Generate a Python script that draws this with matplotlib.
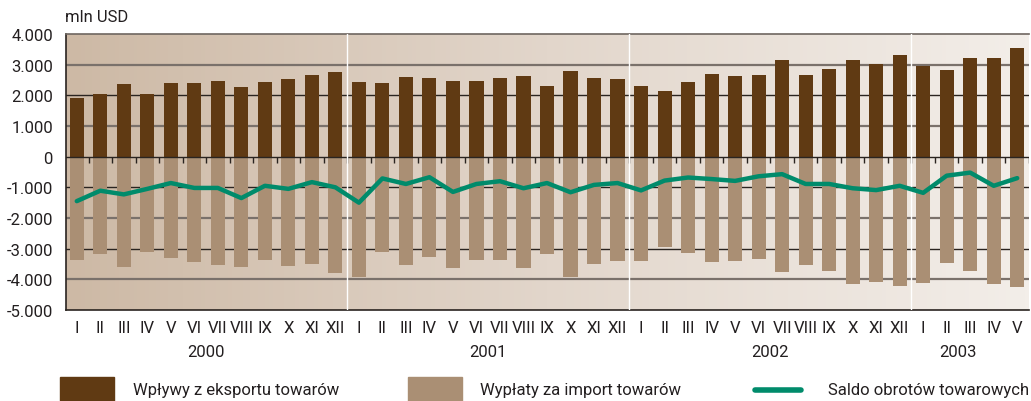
import numpy as np
import matplotlib
matplotlib.use("Agg")
import matplotlib.pyplot as plt
from matplotlib.colors import LinearSegmentedColormap
from matplotlib.patches import Rectangle
from matplotlib.lines import Line2D
import matplotlib.transforms as mtransforms

plt.rcParams['font.family'] = ['Roboto', 'DejaVu Sans']

# months of 2000-01 .. 2003-05
months = ['I', 'II', 'III', 'IV', 'V', 'VI', 'VII', 'VIII', 'IX', 'X', 'XI', 'XII'] * 3 + ['I', 'II', 'III', 'IV', 'V']
years = ['2000', '2001', '2002', '2003']
year_centers = [5.5, 17.5, 29.5, 37.5]
year_breaks = [11.5, 23.5, 35.5]

# mln USD
exports = [1910, 2040, 2370, 2040, 2400, 2400, 2470, 2270, 2430, 2530, 2660, 2760,
           2430, 2400, 2600, 2565, 2470, 2470, 2565, 2630, 2300, 2790, 2565, 2530,
           2300, 2140, 2430, 2700, 2630, 2660, 3150, 2660, 2860, 3150, 3020, 3315,
           2960, 2830, 3220, 3220, 3540]
imports = [-3360, -3160, -3590, -3100, -3290, -3420, -3520, -3590, -3360, -3550, -3490, -3780,
           -3910, -3100, -3520, -3260, -3620, -3360, -3360, -3620, -3160, -3910, -3490, -3390,
           -3390, -2930, -3130, -3420, -3390, -3330, -3750, -3520, -3720, -4140, -4080, -4210,
           -4110, -3460, -3720, -4140, -4240]
balance = [-1450, -1110, -1230, -1050, -860, -1020, -1020, -1350, -950, -1050, -830, -1000,
           -1500, -710, -890, -670, -1150, -890, -800, -1030, -860, -1160, -920, -860,
           -1100, -780, -680, -730, -790, -640, -570, -890, -890, -1030, -1090, -950,
           -1180, -620, -520, -950, -700]

c_exp = '#603a13'
c_imp = '#aa8f74'
c_bal = '#008b6b'

fig = plt.figure(figsize=(10.31, 4.02), dpi=100)
ax = fig.add_axes([65.5 / 1031, 91 / 402, 963 / 1031, 276 / 402])

x = np.arange(len(months))

# background gradient
bg = LinearSegmentedColormap.from_list('bg', ['#cdb9a5', '#e2d6cb', '#f3eee9'])
ax.imshow(np.linspace(0, 1, 256).reshape(1, -1), cmap=bg, aspect='auto',
          extent=(0, 1, 0, 1), transform=ax.transAxes, zorder=0)

# gridlines
for v in [3000, 1000, -2000, -4000]:
    ax.axhline(v, color='#7a716b', lw=1.6, zorder=1)
for v in [2000, -1000, -3000]:
    ax.axhline(v, color='#2a2420', lw=1.0, zorder=1)

ax.bar(x, exports, width=0.6, color=c_exp, zorder=2)
ax.bar(x, imports, width=0.6, color=c_imp, zorder=2)

ax.axhline(0, color='#2a2420', lw=1.0, zorder=3)
ax.vlines(x[1:] - 0.5, -200, 0, color='#2a2420', lw=1.0, zorder=3)
ax.vlines([x[-1] + 0.5], -200, 0, color='#2a2420', lw=1.0, zorder=3)

for b in year_breaks:
    ax.axvline(b, color='white', lw=1.0, zorder=3.5)

ax.plot(x, balance, color=c_bal, lw=3.2, zorder=4, solid_joinstyle='round', solid_capstyle='round')

ax.set_xlim(-0.48, len(months) - 0.52)
ax.set_ylim(-5000, 4000)

yt = np.arange(-5000, 4001, 1000)
ax.set_yticks(yt)
ax.set_yticklabels([f'{v:,}'.replace(',', '.') for v in yt], fontsize=12, color='#231f20')
ax.tick_params(axis='y', length=0, pad=9)

ax.set_xticks(x)
ax.set_xticklabels(months, fontsize=12, color='#231f20')
ax.tick_params(axis='x', length=0, pad=7)

trans = mtransforms.blended_transform_factory(ax.transData, ax.transAxes)
for yr, cx in zip(years, year_centers):
    ax.text(cx, -0.149, yr, transform=trans, ha='center', va='center', fontsize=12, color='#231f20')

for s in ['left', 'bottom', 'top']:
    ax.spines[s].set_color('#2a2420')
    ax.spines[s].set_linewidth(1.2)
ax.spines['top'].set_color('#6e6660')
ax.spines['right'].set_visible(False)

fig.text(65 / 1031, 1 - 17 / 402, 'mln USD', fontsize=12, color='#231f20', va='center', ha='left')

# legend
H = 402.0
W = 1031.0
fig.add_artist(Rectangle((60 / W, 0), 54 / W, (402 - 378) / H, transform=fig.transFigure, color=c_exp))
fig.add_artist(Rectangle((408 / W, 0), 54 / W, (402 - 378) / H, transform=fig.transFigure, color=c_imp))
fig.add_artist(Line2D([755 / W, 801 / W], [1 - 391 / H, 1 - 391 / H], transform=fig.transFigure,
                      color=c_bal, lw=4, solid_capstyle='round'))
fig.text(133 / W, 1 - 391 / H, 'Wpływy z eksportu towarów', fontsize=12, va='center', color='#231f20')
fig.text(480 / W, 1 - 391 / H, 'Wypłaty za import towarów', fontsize=12, va='center', color='#231f20')
fig.text(828 / W, 1 - 391 / H, 'Saldo obrotów towarowych', fontsize=12, va='center', color='#231f20')

fig.savefig('out.png', dpi=100)
